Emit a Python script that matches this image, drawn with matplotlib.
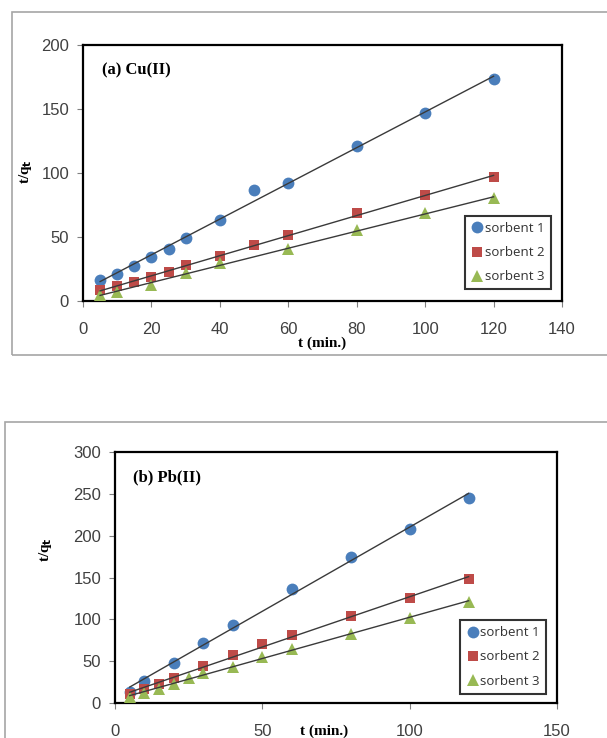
import numpy as np
import matplotlib
matplotlib.use("Agg")
import matplotlib.pyplot as plt
from matplotlib.patches import Rectangle

# panel (a) Cu(II)
a_x1 = [5, 10, 15, 20, 25, 30, 40, 50, 60, 80, 100, 120]
a_y1 = [16.4, 21, 27.6, 34.6, 41, 49, 63, 87, 92, 121, 146.6, 173.4]
a_x2 = [5, 10, 15, 20, 25, 30, 40, 50, 60, 80, 100, 120]
a_y2 = [8.6, 11.7, 15, 19, 23, 28, 35, 43.7, 51.5, 68.5, 82.8, 96.6]
a_x3 = [5, 10, 20, 30, 40, 60, 80, 100, 120]
a_y3 = [4.7, 7.3, 12.5, 21.6, 29.4, 41, 55.5, 68.5, 80.2]

# panel (b) Pb(II)
b_x1 = [5, 10, 20, 30, 40, 60, 80, 100, 120]
b_y1 = [13, 26, 48, 72, 93, 136, 175, 208, 245]
b_x2 = [5, 10, 15, 20, 30, 40, 50, 60, 80, 100, 120]
b_y2 = [10, 17, 23, 30, 44, 57, 70, 81, 104, 126, 148]
b_x3 = [5, 10, 15, 20, 25, 30, 40, 50, 60, 80, 100, 120]
b_y3 = [7, 12, 17, 23, 30, 35, 43, 55, 64, 82, 102, 121]

labels = ["sorbent 1", "sorbent 2", "sorbent 3"]
colors = ["#4a7ebb", "#be4b48", "#98b954"]
markers = ["o", "s", "^"]
msizes = [8.5, 7.5, 8.5]

fig = plt.figure(figsize=(6.07, 7.38), dpi=100)

# outer chart borders (gray, like excel chart area)
fig.add_artist(Rectangle((12/607, 1-355/738), 600/607, 343/738, transform=fig.transFigure,
                         fill=False, edgecolor="#a6a6a6", lw=1.2))
fig.add_artist(Rectangle((5/607, 1-745/738), 610/607, 323/738, transform=fig.transFigure,
                         fill=False, edgecolor="#a6a6a6", lw=1.2))

axa = fig.add_axes([83/607, 1-301/738, 479/607, 256/738])
axb = fig.add_axes([115/607, 1-702.7/738, 442/607, 250.4/738])

def draw(ax, xs, ys, title, xmax, xstep, ymax, ystep, leg_anchor):
    for x, y, lab, c, m, ms in zip(xs, ys, labels, colors, markers, msizes):
        ax.plot(x, y, linestyle="none", marker=m, color=c, markersize=ms, label=lab,
                markeredgewidth=0, zorder=3)
        k, b = np.polyfit(x, y, 1)
        xx = np.array([min(x), max(x)])
        ax.plot(xx, k*xx + b, color="#3a3a3a", lw=1.0, zorder=4)
    ax.set_xlim(0, xmax)
    ax.set_ylim(0, ymax)
    ax.set_xticks(np.arange(0, xmax+1, xstep))
    ax.set_yticks(np.arange(0, ymax+1, ystep))
    for s in ax.spines.values():
        s.set_color("black")
        s.set_linewidth(1.6)
    ax.tick_params(direction="out", length=4, color="#808080", width=0.8,
                   labelsize=12, labelcolor="#404040")
    ax.tick_params(axis="x", pad=11)
    ax.tick_params(axis="y", pad=6)
    for t in ax.get_xticklabels() + ax.get_yticklabels():
        t.set_family("Liberation Sans")
    ax.text(0.04, 0.9, title, transform=ax.transAxes, fontsize=12, fontweight="bold",
            family="Liberation Serif", va="center")
    leg = ax.legend(loc="lower right", bbox_to_anchor=leg_anchor, frameon=True, fancybox=False,
                    edgecolor="black", handletextpad=0.1, handlelength=1.0,
                    borderpad=0.45, labelspacing=0.85, prop={"family": "Open Sans", "size": 9.5})
    leg.get_frame().set_linewidth(1.5)
    for t in leg.get_texts():
        t.set_color("#333333")

draw(axa, [a_x1, a_x2, a_x3], [a_y1, a_y2, a_y3], "(a) Cu(II)", 140, 20, 200, 50, (0.99, 0.02))
draw(axb, [b_x1, b_x2, b_x3], [b_y1, b_y2, b_y3], "(b) Pb(II)", 150, 50, 300, 50, (0.99, 0.01))

fig.text(322/607, 1-343/738, "t (min.)", ha="center", va="center", fontsize=11,
         fontweight="bold", family="Liberation Serif")
fig.text(324/607, 1-731/738, "t (min.)", ha="center", va="center", fontsize=11,
         fontweight="bold", family="Liberation Serif")
fig.text(25/607, 1-172/738, "t/q$_\\mathbf{t}$", ha="center", va="center", rotation=90,
         fontsize=11, fontweight="bold", family="Liberation Serif")
fig.text(45/607, 1-550/738, "t/q$_\\mathbf{t}$", ha="center", va="center", rotation=90,
         fontsize=11, fontweight="bold", family="Liberation Serif")

fig.savefig("out.png", dpi=100)
